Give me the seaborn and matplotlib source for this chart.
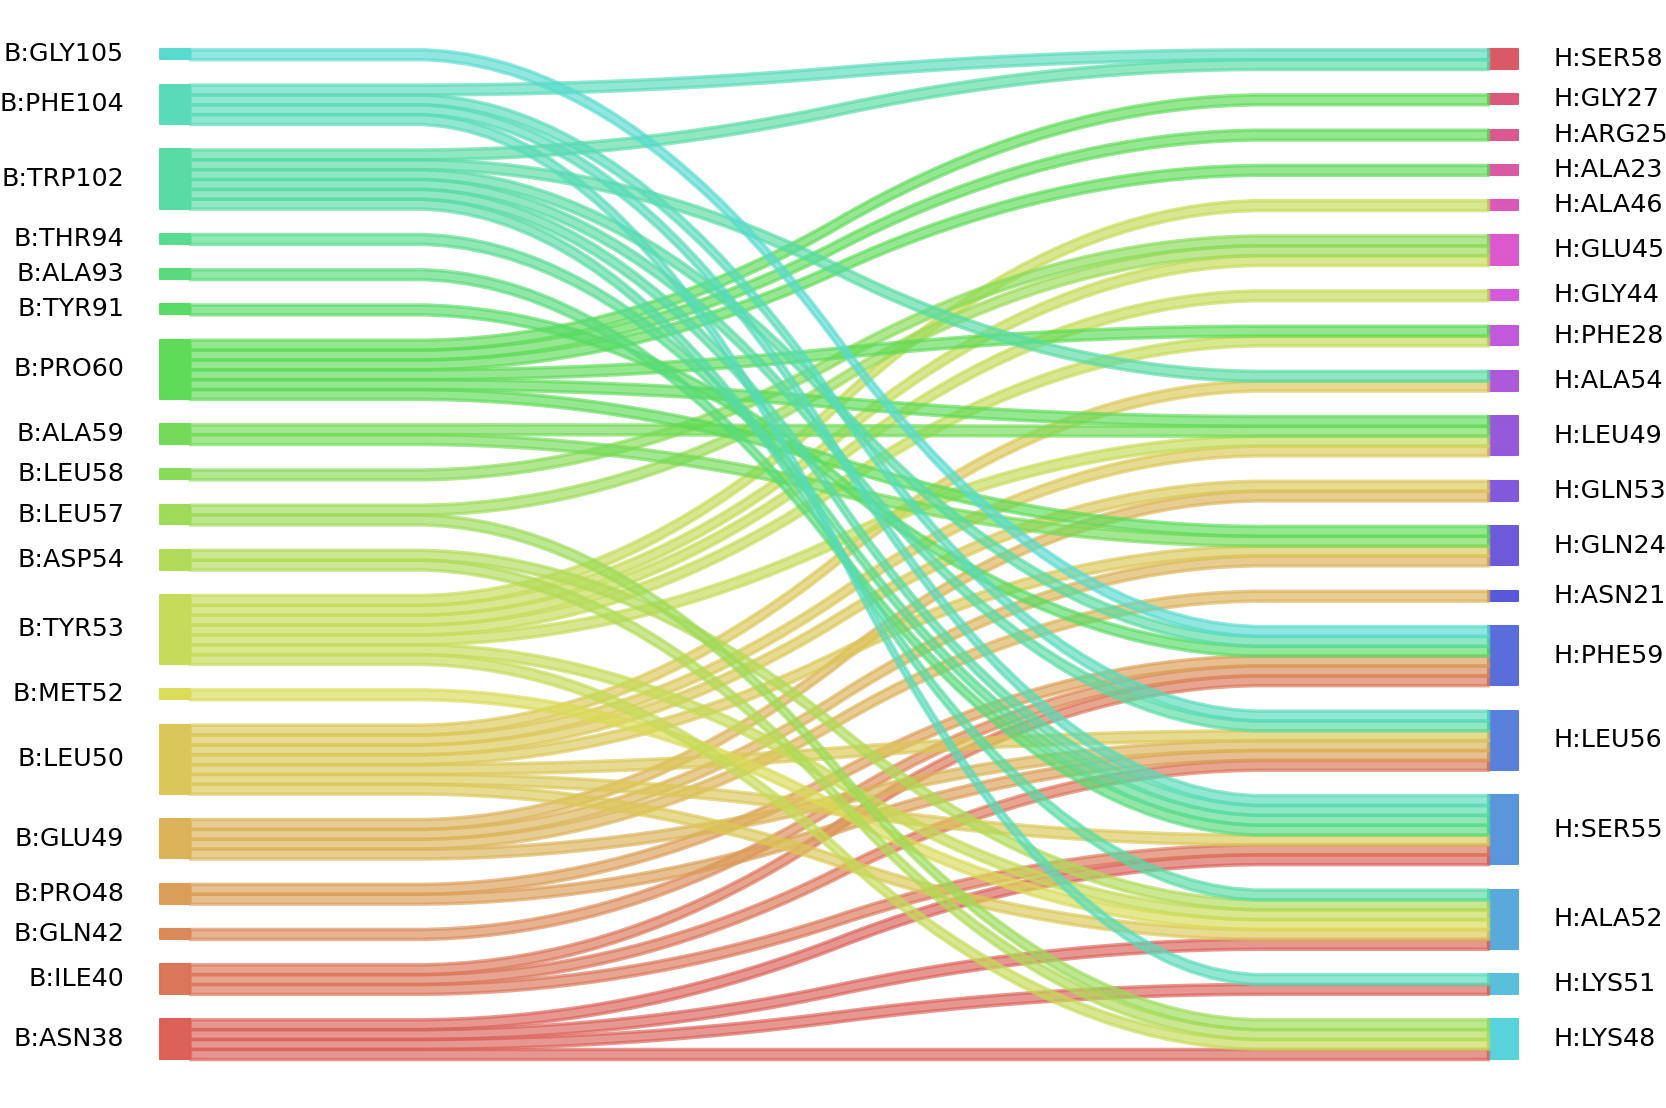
import numpy as np
import pandas as pd
import seaborn as sns
import matplotlib
matplotlib.use("Agg")
import matplotlib.pyplot as plt

# nodes, listed from bottom to top
left_nodes = ["B:ASN38", "B:ILE40", "B:GLN42", "B:PRO48", "B:GLU49", "B:LEU50", "B:MET52",
              "B:TYR53", "B:ASP54", "B:LEU57", "B:LEU58", "B:ALA59", "B:PRO60", "B:TYR91",
              "B:ALA93", "B:THR94", "B:TRP102", "B:PHE104", "B:GLY105"]
right_nodes = ["H:LYS48", "H:LYS51", "H:ALA52", "H:SER55", "H:LEU56", "H:PHE59", "H:ASN21",
               "H:GLN24", "H:GLN53", "H:LEU49", "H:ALA54", "H:PHE28", "H:GLY44", "H:GLU45",
               "H:ALA46", "H:ALA23", "H:ARG25", "H:GLY27", "H:SER58"]

# contacts (one row = one contact, weight 1)
contact_left = (["B:ASN38"] * 4 + ["B:ILE40"] * 3 + ["B:GLN42"] + ["B:PRO48"] * 2
                + ["B:GLU49"] * 4 + ["B:LEU50"] * 7 + ["B:MET52"] + ["B:TYR53"] * 7
                + ["B:ASP54"] * 2 + ["B:LEU57"] * 2 + ["B:LEU58"] + ["B:ALA59"] * 2
                + ["B:PRO60"] * 6 + ["B:TYR91"] + ["B:ALA93"] + ["B:THR94"]
                + ["B:TRP102"] * 6 + ["B:PHE104"] * 4 + ["B:GLY105"])
contact_right = ["H:LYS48", "H:LYS51", "H:ALA52", "H:SER55",
                 "H:SER55", "H:LEU56", "H:PHE59",
                 "H:PHE59",
                 "H:LEU56", "H:PHE59",
                 "H:LEU56", "H:ASN21", "H:GLN24", "H:GLN53",
                 "H:ALA52", "H:SER55", "H:LEU56", "H:GLN24", "H:GLN53", "H:LEU49", "H:ALA54",
                 "H:ALA52",
                 "H:LYS48", "H:ALA52", "H:LEU49", "H:PHE28", "H:GLY44", "H:GLU45", "H:ALA46",
                 "H:LYS48", "H:ALA52",
                 "H:LYS48", "H:GLU45",
                 "H:GLU45",
                 "H:GLN24", "H:LEU49",
                 "H:GLN24", "H:LEU49", "H:PHE28", "H:ALA23", "H:ARG25", "H:GLY27",
                 "H:PHE59",
                 "H:SER55",
                 "H:SER55",
                 "H:ALA52", "H:SER55", "H:LEU56", "H:PHE59", "H:ALA54", "H:SER58",
                 "H:LYS51", "H:SER55", "H:LEU56", "H:SER58",
                 "H:PHE59"]
contact_weight = [1] * len(contact_left)

df = pd.DataFrame({"left": contact_left, "right": contact_right, "weight": contact_weight})

palette = sns.color_palette("hls", len(left_nodes) + len(right_nodes))
colors = dict(zip(left_nodes + right_nodes, palette))

total = df.weight.sum()
gap = 0.046 * total
x_end = 100
bar_w = 2.3


def stack(nodes, col):
    size = df.groupby(col).weight.sum()
    bottoms = {}
    y = 0
    for n in nodes:
        bottoms[n] = y
        y += size[n] + gap
    return bottoms, size


lb, lsize = stack(left_nodes, "left")
rb, rsize = stack(right_nodes, "right")
height = total + gap * (len(left_nodes) - 1)

fig = plt.figure(figsize=(16.66, 11.08), dpi=100)
ax = fig.add_axes([0, 0, 1, 1])
ax.axis("off")

# bars + labels
for n in left_nodes:
    ax.fill_between([-bar_w, 0], lb[n], lb[n] + lsize[n], color=colors[n], alpha=0.99, lw=1.5)
    ax.text(-5.05, lb[n] + lsize[n] / 2, n, ha="right", va="center", fontsize=18.3)
for n in right_nodes:
    ax.fill_between([x_end, x_end + bar_w], rb[n], rb[n] + rsize[n], color=colors[n], alpha=0.99, lw=1.5)
    ax.text(x_end + 5, rb[n] + rsize[n] / 2, n, ha="left", va="center", fontsize=18.3)

# strips
l_cur = dict(lb)
r_cur = dict(rb)
kernel = 0.05 * np.ones(20)
for l in left_nodes:
    for r in right_nodes:
        w = df[(df.left == l) & (df.right == r)].weight.sum()
        if w == 0:
            continue
        ys_d = np.array(50 * [l_cur[l]] + 50 * [r_cur[r]], dtype=float)
        ys_d = np.convolve(np.convolve(ys_d, kernel, mode="valid"), kernel, mode="valid")
        ys_u = np.array(50 * [l_cur[l] + w] + 50 * [r_cur[r] + w], dtype=float)
        ys_u = np.convolve(np.convolve(ys_u, kernel, mode="valid"), kernel, mode="valid")
        ax.fill_between(np.linspace(0, x_end, len(ys_d)), ys_d, ys_u,
                        color=colors[l], alpha=0.65, lw=2.5)
        l_cur[l] += w
        r_cur[r] += w

ax.set_xlim(-14.6, 113.7)
ax.set_ylim(-5, height + 5)

plt.savefig("out.png", dpi=100)
